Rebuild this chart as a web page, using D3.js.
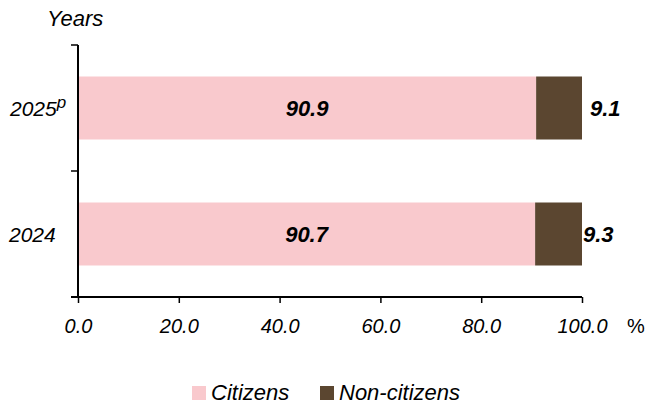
<!DOCTYPE html>
<html>
<head>
<meta charset="utf-8">
<script src="https://cdn.jsdelivr.net/npm/d3@7"></script>
<style>
  body { margin: 0; background: #fff; }
  svg text { font-family: "Liberation Sans", Arial, sans-serif; font-style: italic; }
</style>
</head>
<body>
<div class="chart"></div>
<script>
  // data
  const years = ["2025", "2024"];
  const citizens = [90.9, 90.7];
  const nonCitizens = [9.1, 9.3];
  const xTicks = [0, 20, 40, 60, 80, 100];
  const seriesNames = ["Citizens", "Non-citizens"];

  const w = 649, h = 406;
  const padL = 78, padR = 582, padT = 45, padB = 297;
  const colors = ["#F9C9CD", "#5B4630"];

  const svg = d3.select(".chart").append("svg")
    .attr("width", w).attr("height", h);

  const xScale = d3.scaleLinear().domain([0, 100]).range([padL, padR]);
  const yScale = d3.scaleBand().domain(years).range([padT, padB]).paddingInner(0.5).paddingOuter(0.25);

  /* stacked bars */
  const rows = years.map((y, i) => ({ year: y, c: citizens[i], n: nonCitizens[i] }));

  svg.selectAll("rect.cit").data(rows).enter().append("rect")
    .attr("x", xScale(0))
    .attr("y", d => yScale(d.year))
    .attr("width", d => xScale(d.c) - xScale(0))
    .attr("height", yScale.bandwidth())
    .attr("fill", colors[0]);

  svg.selectAll("rect.non").data(rows).enter().append("rect")
    .attr("x", d => xScale(d.c))
    .attr("y", d => yScale(d.year))
    .attr("width", d => xScale(d.c + d.n) - xScale(d.c))
    .attr("height", yScale.bandwidth())
    .attr("fill", colors[1]);

  /* value labels */
  svg.selectAll("text.cv").data(rows).enter().append("text")
    .attr("x", d => xScale(d.c / 2))
    .attr("y", d => yScale(d.year) + yScale.bandwidth() / 2 + 8)
    .attr("text-anchor", "middle")
    .attr("font-size", 22).attr("font-weight", "bold")
    .text(d => d.c.toFixed(1));

  svg.selectAll("text.nv").data(rows).enter().append("text")
    .attr("x", (d, i) => xScale(100) + (i === 0 ? 8 : 1))
    .attr("y", d => yScale(d.year) + yScale.bandwidth() / 2 + 8)
    .attr("font-size", 22).attr("font-weight", "bold")
    .text(d => d.n.toFixed(1));

  /* axes */
  const xAxis = svg.append("g")
    .attr("transform", "translate(0," + padB + ")")
    .call(d3.axisBottom(xScale).tickValues(xTicks).tickFormat(d => d.toFixed(1)).tickSize(6).tickSizeOuter(0));
  xAxis.select(".domain").attr("stroke", "#000").attr("stroke-width", 2).attr("d", "M" + (padL - 7) + ",0H" + padR);
  xAxis.selectAll(".tick line").attr("stroke", "#000").attr("stroke-width", 1.5);
  xAxis.selectAll(".tick text").attr("font-size", 20).attr("fill", "#000").attr("y", 36).attr("dy", null)
    .attr("font-family", "Liberation Sans, Arial, sans-serif");

  const boundaries = [padT, (padT + padB) / 2, padB];
  const yAxis = svg.append("g");
  yAxis.append("line").attr("x1", padL).attr("x2", padL).attr("y1", padT).attr("y2", padB)
    .attr("stroke", "#000").attr("stroke-width", 2);
  yAxis.selectAll("line.t").data(boundaries).enter().append("line")
    .attr("x1", padL - 7).attr("x2", padL).attr("y1", d => d).attr("y2", d => d)
    .attr("stroke", "#000").attr("stroke-width", 1.5);

  /* category labels */
  const catLabels = svg.selectAll("text.cat").data(years).enter().append("text")
    .attr("y", d => yScale(d) + yScale.bandwidth() / 2 + 8)
    .attr("font-size", 21);
  catLabels.filter(d => d === "2025")
    .attr("x", 10)
    .text("2025")
    .append("tspan").attr("font-size", 17).attr("dy", -8).text("p");
  catLabels.filter(d => d === "2024")
    .attr("x", 9).text("2024");

  svg.append("text").attr("x", 47).attr("y", 26).attr("font-size", 22).text("Years");
  svg.append("text").attr("x", 627).attr("y", 333).attr("font-size", 20).style("font-style", "normal").text("%");

  /* legend */
  const legendX = [192, 320];
  const legend = svg.selectAll("g.leg").data(seriesNames).enter().append("g")
    .attr("transform", (d, i) => "translate(" + legendX[i] + ",386)");
  legend.append("rect").attr("width", 14).attr("height", 14).attr("fill", (d, i) => colors[i]);
  legend.append("text").attr("x", 19).attr("y", 14).attr("font-size", 22).text(d => d);
</script>
</body>
</html>
